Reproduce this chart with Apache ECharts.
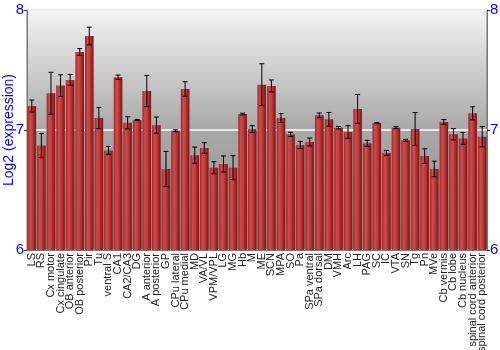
<!DOCTYPE html>
<html><head><meta charset="utf-8">
<script src="https://cdn.jsdelivr.net/npm/echarts@6/dist/echarts.min.js"></script>
<style>html,body{margin:0;padding:0;background:#fff}#c{width:500px;height:350px}</style>
</head><body><div id="c"></div>
<script>
var categories = ["LS","RS","Cx motor","Cx cingulate","OB anterior","OB posterior","Pir","Tu","ventral S","CA1","CA2/CA3","DG","A anterior","A posterior","GP","CPu lateral","CPu medial","MD","VA/VL","VPM/VPL","LG","MG","Hb","M","ME","SCN","MPA","SO","Pa","SPa ventral","SPa dorsal","DM","VMH","Arc","LH","PAG","SC","IC","VTA","SN","Tg","Pn","MVe","Cb vermis","Cb lobe","Cb nucleus","spinal cord anterior","spinal cord posterior"];
var values = [7.20,6.87,7.306,7.37,7.417,7.65,7.783,7.10,6.83,7.44,7.06,7.083,7.325,7.04,6.675,6.994,7.342,6.79,6.85,6.686,6.717,6.686,7.133,7.008,7.378,7.367,7.10,6.964,6.875,6.90,7.122,7.089,7.019,6.983,7.175,6.889,7.058,6.808,7.019,6.914,7.008,6.783,6.675,7.067,6.964,6.93,7.139,6.944];
var errors = [0.05,0.10,0.175,0.09,0.045,0.028,0.074,0.088,0.033,0.018,0.05,0.005,0.13,0.068,0.147,0.007,0.06,0.068,0.044,0.05,0.067,0.10,0.007,0.028,0.174,0.05,0.0375,0.017,0.03,0.033,0.02,0.057,0.01,0.053,0.12,0.025,0.005,0.02,0.008,0.008,0.137,0.06,0.065,0.02,0.047,0.049,0.054,0.085];
var yTicks = ["6","7","8"];

var errData = values.map(function(v,i){return [i, v-errors[i], v+errors[i]];});
var chart = echarts.init(document.getElementById('c'));
var yAxisBase = {
  type:'value', min:6, max:8, interval:1,
  axisLine:{show:true, lineStyle:{color:'#777'}},
  axisTick:{show:true, length:3, lineStyle:{color:'#333'}},
  axisLabel:{color:'#0000ff', fontSize:15, fontFamily:'Liberation Sans, Arial', margin:3,
    formatter:function(v){return yTicks[Math.round(v-6)];}},
  splitLine:{show:false}
};
chart.setOption({
  animation:false,
  grid:{left:27, right:13, top:10, bottom:100, show:true, borderWidth:1, borderColor:'#777', containLabel:false, outerBoundsMode:'none',
    backgroundColor:{type:'linear',x:0,y:0,x2:0,y2:1,colorStops:[{offset:0,color:'#f4f4f4'},{offset:0.5,color:'#a8a8a8'},{offset:1,color:'#909090'}]}},
  xAxis:{type:'category', data:categories,
    axisLine:{show:true, lineStyle:{color:'#777'}},
    axisTick:{show:false},
    axisLabel:{rotate:90, interval:0, fontSize:11, color:'#222', fontFamily:'Liberation Sans, Arial', margin:3}},
  yAxis:[
    Object.assign({}, yAxisBase, {position:'left', name:'Log2 (expression)', nameLocation:'middle', nameGap:11, nameMoveOverlap:false,
      nameTextStyle:{color:'#0000ff', fontSize:14, fontFamily:'Liberation Sans, Arial'},
      splitLine:{show:true, lineStyle:{color:'#ffffff', width:1.5}}}),
    Object.assign({}, yAxisBase, {position:'right'})
  ],
  series:[
    {type:'bar', data:values, barCategoryGap:'10%',
      itemStyle:{color:{type:'linear',x:0,y:0,x2:1,y2:0,colorStops:[
        {offset:0,color:'#9c2424'},{offset:0.3,color:'#d24c4c'},{offset:0.55,color:'#c23a3a'},{offset:1,color:'#7a1414'}]}}},
    {type:'custom', data:errData, z:10,
      renderItem:function(params, api){
        var x = api.value(0);
        var lo = api.coord([x, api.value(1)]);
        var hi = api.coord([x, api.value(2)]);
        var hw = 2.5;
        var st = {stroke:'#000', lineWidth:1};
        return {type:'group', children:[
          {type:'line', shape:{x1:lo[0],y1:lo[1],x2:hi[0],y2:hi[1]}, style:st},
          {type:'line', shape:{x1:lo[0]-hw,y1:lo[1],x2:lo[0]+hw,y2:lo[1]}, style:st},
          {type:'line', shape:{x1:hi[0]-hw,y1:hi[1],x2:hi[0]+hw,y2:hi[1]}, style:st}
        ]};
      }}
  ]
});
</script></body></html>
